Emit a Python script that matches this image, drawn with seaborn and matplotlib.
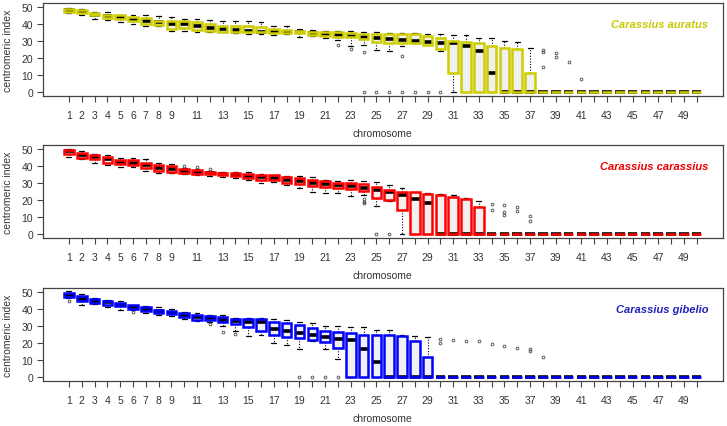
import numpy as np
import matplotlib
matplotlib.use("Agg")
import matplotlib.pyplot as plt
import seaborn as sns

chromosomes = list(range(1, 51))
tick_labels = [str(c) if (c <= 9 or c % 2 == 1) else '' for c in chromosomes]

# Carassius auratus
auratus_med = [48, 47, 45.5, 44.5, 44, 42.5, 42, 41, 40, 40,
               39, 37.5, 37, 36.5, 36, 35.5, 35.5, 35.5, 35, 34.5,
               34, 33.5, 33, 32, 31.6, 31.2, 30.6, 30, 29.6, 29,
               28.5, 26.9, 24.3, 11.3, 0, 0, 0, 0, 0, 0,
               0, 0, 0, 0, 0, 0, 0, 0, 0, 0]
auratus_q1 = [47, 46.5, 45, 43.5, 43, 41.5, 40, 39.5, 37, 37.5,
              36.5, 36, 35.5, 35.5, 35, 35, 34.5, 34.5, 34.5, 33.5,
              33, 32.5, 32, 31, 29.6, 29, 28.9, 28.9, 27.7, 25.5,
              11.3, 0, 0, 0, 0, 0, 0, 0, 0, 0,
              0, 0, 0, 0, 0, 0, 0, 0, 0, 0]
auratus_q3 = [49, 48, 46.5, 45.5, 45, 44, 43.5, 42, 41.5, 41.5,
              41, 40, 39, 39, 38.5, 38, 37, 36.5, 36, 35.5,
              35, 35, 34.5, 34, 34.2, 34.2, 34, 34, 33, 31.6,
              30.2, 29.6, 28.7, 27, 25.9, 25.1, 10.9, 0, 0, 0,
              0, 0, 0, 0, 0, 0, 0, 0, 0, 0]
auratus_lo = [46.5, 45, 43, 42.5, 41, 40, 39, 38.5, 36, 36,
              35.5, 35.5, 35, 34.5, 34, 34, 33.5, 34, 32.5, 33,
              31.5, 30.5, 27, 27.5, 24.7, 24.1, 27, 28.9, 27.7, 24,
              0, 0, 0, 0, 0, 0, 0, 0, 0, 0,
              0, 0, 0, 0, 0, 0, 0, 0, 0, 0]
auratus_hi = [49.5, 48.5, 47, 47, 45.5, 45.5, 45, 44.5, 44, 43,
              43, 42.5, 42, 41.5, 41.5, 41, 39, 38.5, 37, 36.5,
              36, 36, 36, 35.5, 35.4, 34.8, 34.8, 34.8, 34.2, 33.8,
              33.2, 33.2, 31.8, 31.6, 30, 29.6, 25.7, 0, 0, 0,
              0, 0, 0, 0, 0, 0, 0, 0, 0, 0]
auratus_fliers = {22: [27.3], 23: [25.5], 24: [23.2, 0], 25: [0], 26: [0],
                  27: [21, 0], 28: [0], 29: [0], 30: [0],
                  38: [24.5, 23.5, 14.6], 39: [22.7, 20.6], 40: [17.8], 41: [7.3]}

# Carassius carassius
carassius_med = [48.6, 46.7, 45.3, 44.1, 42.3, 41.7, 40.4, 38.6, 38.2, 37.2,
                 36.6, 36, 35.4, 35, 34.3, 33.3, 33.1, 31.9, 31.1, 30.3,
                 29.3, 28.7, 28, 27.2, 25.8, 24.6, 22.8, 20.8, 18.3, 0,
                 0, 0, 0, 0, 0, 0, 0, 0, 0, 0,
                 0, 0, 0, 0, 0, 0, 0, 0, 0, 0]
carassius_q1 = [47.4, 44.7, 44.1, 41.7, 41.1, 40.4, 39, 37.4, 36.6, 36.2,
                35.6, 35.2, 34.8, 34.4, 32.9, 31.9, 31.9, 30.3, 29.5, 28.3,
                27.6, 27.2, 26.6, 25.4, 21.5, 20.3, 14.3, 0, 0, 0,
                0, 0, 0, 0, 0, 0, 0, 0, 0, 0,
                0, 0, 0, 0, 0, 0, 0, 0, 0, 0]
carassius_q3 = [49.6, 47.8, 46.7, 45.5, 43.5, 43.5, 42.1, 40.4, 40.2, 38.2,
                37.6, 36.6, 36.2, 36, 35.2, 35, 34.6, 33.3, 32.9, 31.9,
                31.3, 30.3, 30.1, 29.3, 27.9, 25.8, 24.8, 24.6, 23.8, 22.7,
                21.7, 20.8, 15.9, 0, 0, 0, 0, 0, 0, 0,
                0, 0, 0, 0, 0, 0, 0, 0, 0, 0]
carassius_lo = [45.5, 44.3, 42.1, 40.7, 39.6, 39.4, 37.2, 36.2, 36, 35.4,
                35, 34.4, 33.7, 32.7, 31.7, 30.3, 30.7, 28.9, 27, 24.6,
                24.4, 24.4, 22.2, 23, 16.5, 19.5, 0, 0, 0, 0,
                0, 0, 0, 0, 0, 0, 0, 0, 0, 0,
                0, 0, 0, 0, 0, 0, 0, 0, 0, 0]
carassius_hi = [50, 48.6, 47.4, 46.3, 44.7, 44.5, 43.9, 41.9, 41.5, 38.8,
                38, 37.2, 36.8, 36.8, 36.6, 35.4, 35, 34, 33.9, 33.5,
                32.1, 31.5, 31.9, 31.3, 30.7, 28.7, 27.2, 24.8, 24, 23.4,
                23.2, 21.1, 19.5, 0, 0, 0, 0, 0, 0, 0,
                0, 0, 0, 0, 0, 0, 0, 0, 0, 0]
carassius_fliers = {10: [40], 11: [39.2], 12: [38.2], 24: [20.7, 19.1, 18.5],
                    25: [0], 26: [0], 34: [17.5, 13.9], 35: [16.9, 13, 11.5],
                    36: [15.7, 13.6], 37: [10.6, 7.6]}

# Carassius gibelio
gibelio_med = [48.2, 46.2, 44.8, 44, 42.5, 41.5, 40.3, 38.7, 37.9, 36.5,
               35.1, 34.7, 33.5, 33.1, 32.3, 32.3, 28.4, 27, 26.2, 24.6,
               23.6, 22.6, 21.6, 16.3, 8.9, 0, 0, 0, 0, 0,
               0, 0, 0, 0, 0, 0, 0, 0, 0, 0,
               0, 0, 0, 0, 0, 0, 0, 0, 0, 0]
gibelio_q1 = [47.2, 45, 43.7, 42.7, 41.7, 40.3, 39.1, 37.5, 36.9, 35.5,
              33.9, 33.9, 32.5, 31.2, 29.4, 27.4, 24.8, 23.8, 23, 21.8,
              20.4, 17.3, 0, 0, 0, 0, 0, 0, 0, 0,
              0, 0, 0, 0, 0, 0, 0, 0, 0, 0,
              0, 0, 0, 0, 0, 0, 0, 0, 0, 0]
gibelio_q3 = [49.4, 47.6, 46.2, 45, 43.5, 42.3, 41.3, 39.7, 38.7, 37.5,
              36.5, 35.9, 35.1, 34.1, 34.1, 34.1, 32.5, 31.7, 30.4, 29,
              27.2, 26.8, 26, 24.8, 24.6, 24.6, 24, 21.2, 11.7, 0,
              0, 0, 0, 0, 0, 0, 0, 0, 0, 0,
              0, 0, 0, 0, 0, 0, 0, 0, 0, 0]
gibelio_lo = [46.8, 42.5, 42.9, 41.3, 39.3, 39.5, 37.5, 36.3, 35.7, 34.1,
              33.1, 32.7, 30, 27, 24.4, 24.6, 19.8, 18.8, 16.7, 21,
              16.3, 10.9, 0, 0, 0, 0, 0, 0, 0, 0,
              0, 0, 0, 0, 0, 0, 0, 0, 0, 0,
              0, 0, 0, 0, 0, 0, 0, 0, 0, 0]
gibelio_hi = [50.4, 48.8, 46.8, 45.6, 44.6, 42.7, 41.9, 41.1, 40.3, 38.5,
              37.7, 36.7, 36.3, 34.9, 34.7, 34.5, 34.1, 33.7, 32.7, 31.7,
              29.8, 29.8, 29.4, 29.4, 27.8, 27.8, 24.6, 24.4, 23.6, 0,
              0, 0, 0, 0, 0, 0, 0, 0, 0, 0,
              0, 0, 0, 0, 0, 0, 0, 0, 0, 0]
gibelio_fliers = {1: [45], 6: [38.6], 12: [31.3], 13: [26.8], 14: [25.6],
                  19: [0], 20: [0], 21: [0], 22: [0],
                  30: [22.6, 20], 31: [21.6], 32: [21.2], 33: [21], 34: [19.6],
                  35: [18.4], 36: [17.1], 37: [16.5, 15.3], 38: [12.1]}

species = [
    ('Carassius auratus', '#cdcd00', '#c8c800',
     auratus_med, auratus_q1, auratus_q3, auratus_lo, auratus_hi, auratus_fliers),
    ('Carassius carassius', '#ff0000', '#ee0000',
     carassius_med, carassius_q1, carassius_q3, carassius_lo, carassius_hi, carassius_fliers),
    ('Carassius gibelio', '#0000ff', '#2222bb',
     gibelio_med, gibelio_q1, gibelio_q3, gibelio_lo, gibelio_hi, gibelio_fliers),
]


def make_stats(med, q1, q3, lo, hi, fliers):
    stats = []
    for i, c in enumerate(chromosomes):
        stats.append(dict(med=med[i], q1=q1[i], q3=q3[i], whislo=lo[i], whishi=hi[i],
                          fliers=fliers.get(c, [])))
    return stats


sns.set_theme(style="white")
plt.rcParams['font.family'] = ['Liberation Sans', 'DejaVu Sans']
text_col = '#333333'

fig = plt.figure(figsize=(7.27, 4.27), dpi=100)
bottoms = [0.773, 0.440, 0.105]

for (name, edge, txt_col, med, q1, q3, lo, hi, fl), bot in zip(species, bottoms):
    ax = fig.add_axes([0.059, bot, 0.935, 0.218])
    stats = make_stats(med, q1, q3, lo, hi, fl)
    # box outline sits above the median so flat (all-zero) boxes show the species colour
    ax.bxp(stats, positions=chromosomes, widths=0.75, patch_artist=True,
           manage_ticks=False, capwidths=0.38,
           boxprops=dict(facecolor='#f0f0f0', edgecolor=edge, linewidth=1.8, zorder=2.3),
           medianprops=dict(color='black', linewidth=2.6, solid_capstyle='butt', zorder=2.2),
           whiskerprops=dict(color='black', linestyle=(0, (1, 1.5)), linewidth=0.8),
           capprops=dict(color='black', linewidth=0.9),
           flierprops=dict(marker='o', markersize=2, markerfacecolor='none',
                           markeredgecolor='#444444', markeredgewidth=0.6))
    # box face must stay under the median, so redraw fills separately
    for p in ax.patches:
        p.set_facecolor('none')
    ax.bxp(stats, positions=chromosomes, widths=0.75, patch_artist=True,
           manage_ticks=False, showcaps=False, showfliers=False,
           boxprops=dict(facecolor='#f0f0f0', edgecolor='none', linewidth=0, zorder=2.0),
           medianprops=dict(linewidth=0),
           whiskerprops=dict(linewidth=0))

    ax.set_xlim(-1.03, 52.03)
    ax.set_ylim(-2.4, 52.4)
    ax.set_xticks(chromosomes)
    ax.set_xticklabels(tick_labels)
    ax.set_yticks([0, 10, 20, 30, 40, 50])
    ax.tick_params(axis='both', direction='out', length=4, width=0.8, color='#444444',
                   labelsize=7.5, labelcolor=text_col)
    ax.tick_params(axis='x', pad=6, bottom=True)
    ax.tick_params(axis='y', pad=3, left=True)
    for s in ax.spines.values():
        s.set_color('#444444')
        s.set_linewidth(0.9)
    ax.set_ylabel('centromeric index', fontsize=7.5, color=text_col, labelpad=6)
    ax.set_xlabel('chromosome', fontsize=7.5, color=text_col, labelpad=6)
    ax.text(0.979, 0.77, name, transform=ax.transAxes, ha='right', va='center',
            fontsize=8, fontstyle='italic', fontweight='bold', color=txt_col)

fig.savefig('out.png', dpi=100)
